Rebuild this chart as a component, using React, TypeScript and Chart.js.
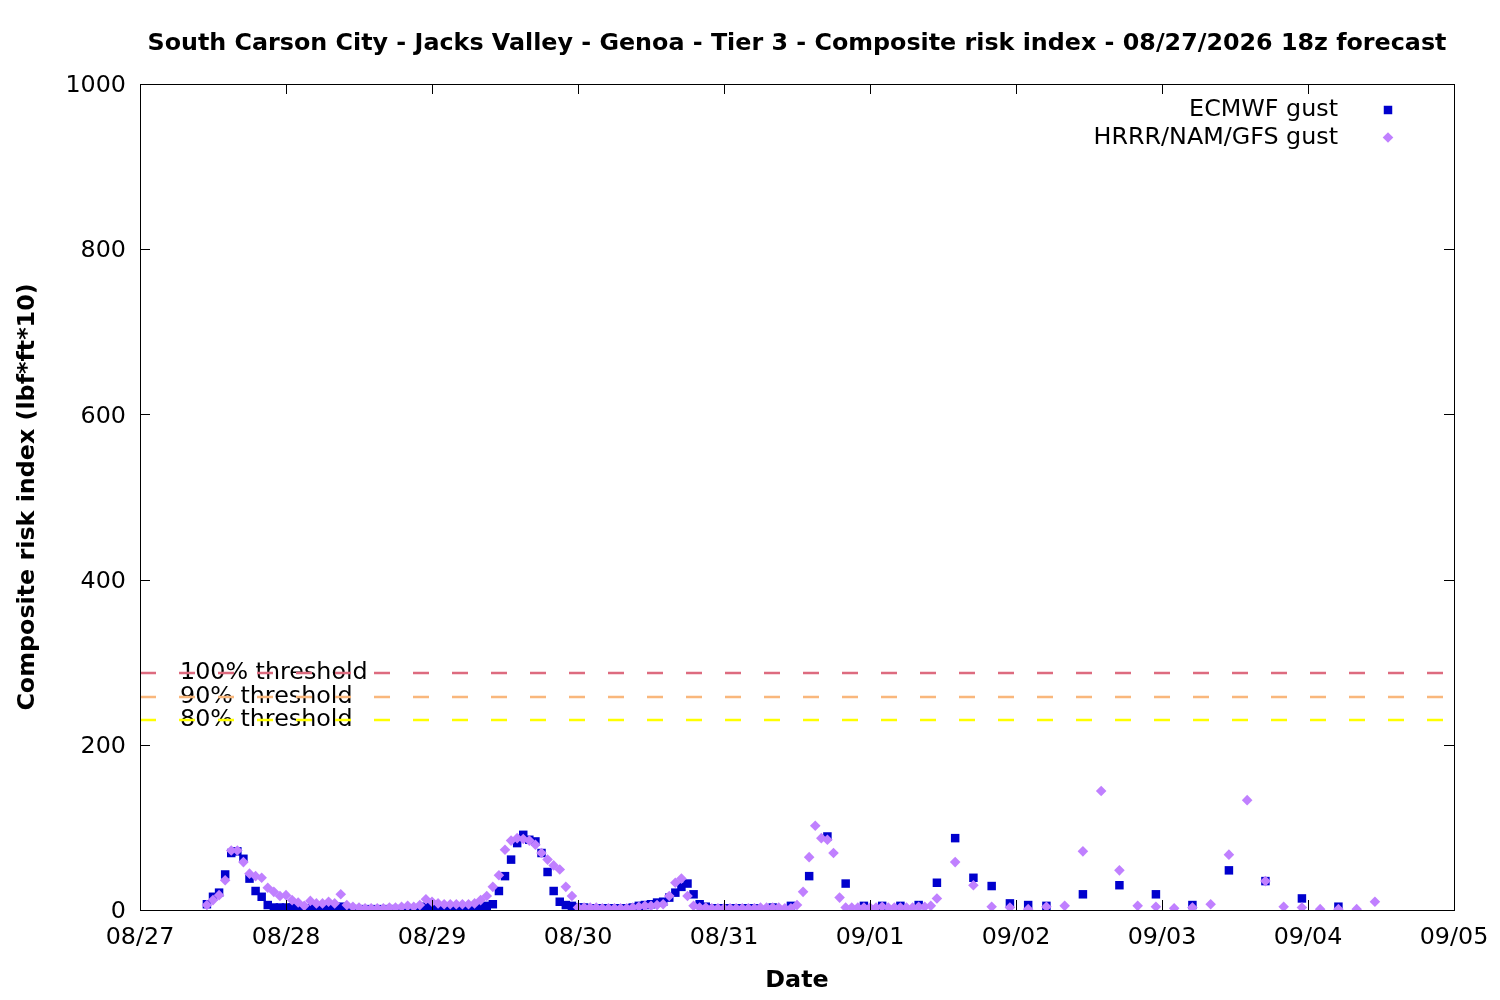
import { useEffect, useRef } from "react"
import { Chart, registerables, type ChartConfiguration, type Plugin } from "chart.js"

Chart.register(...registerables)

const chartTitle =
  "South Carson City - Jacks Valley - Genoa - Tier 3 - Composite risk index - 08/27/2026 18z forecast"
const xTitle = "Date"
const yTitle = "Composite risk index (lbf*ft*10)"

// x axis is hours since 08/27 00:00
const dateLabels = ["08/27", "08/28", "08/29", "08/30", "08/31", "09/01", "09/02", "09/03", "09/04", "09/05"]

// [first hour, step in hours, number of values]
const ecmwfSteps: [number, number, number][] = [
  [11, 1, 91],
  [104, 3, 16],
  [155, 6, 8],
]
const ecmwfGust = [
  7, 16, 21, 43, 69, 71, 62, 38, 23, 16,
  6, 3, 3, 3, 3, 3, 2, 2, 2, 2,
  2, 3, 4, 2, 1, 1, 1, 1, 1, 1,
  1, 1, 1, 1, 2, 2, 4, 2, 2, 2,
  2, 2, 2, 2, 3, 4, 5, 7, 23, 41,
  61, 81, 91, 85, 83, 69, 46, 23, 10, 6,
  5, 3, 3, 2, 2, 2, 2, 2, 2, 2,
  3, 5, 6, 7, 9, 10, 15, 21, 28, 32,
  19, 7, 4, 2, 2, 2, 2, 2, 2, 2,
  2,
  // 3-hourly
  3, 5, 41, 89, 32, 5, 5, 5, 6, 33, 87, 39, 29, 8, 6, 5,
  // 6-hourly
  19, 30, 19, 6, 48, 35, 14, 4,
]

const hrrrSteps: [number, number, number][] = [
  [11, 1, 121],
  [134, 3, 24],
]
const hrrrGust = [
  6, 12, 18, 36, 72, 72, 58, 44, 41, 39,
  27, 22, 17, 18, 12, 9, 5, 11, 8, 8,
  10, 8, 19, 6, 4, 3, 2, 2, 2, 2,
  3, 3, 4, 5, 4, 6, 13, 10, 8, 7,
  7, 7, 7, 7, 8, 12, 17, 28, 42, 73,
  84, 87, 86, 84, 79, 69, 61, 54, 49, 28,
  17, 3, 3, 3, 3, 2, 2, 2, 2, 2,
  3, 4, 5, 5, 6, 7, 17, 33, 38, 17,
  5, 3, 3, 2, 2, 2, 2, 2, 2, 2,
  2, 3, 3, 3, 3, 2, 2, 6, 22, 64,
  102, 87, 85, 69, 15, 3, 3, 3, 3, 3,
  3, 4, 3, 3, 3, 3, 3, 4, 4, 5,
  14,
  // 3-hourly
  58, 30, 4, 3, 1, 4, 5, 71, 144, 48, 5, 4, 2, 3, 7, 67, 133, 35, 4, 3, 1, 1, 1, 10,
]

const thresholdLabels = ["100% threshold", "90% threshold", "80% threshold"]
const thresholdValues = [287, 258, 230]
const thresholdColors = ["#dd6b7f", "#f9b77c", "#ffff00"]

const seriesLabels = ["ECMWF gust", "HRRR/NAM/GFS gust"]
const seriesColors = ["#0000cd", "#c080ff"]

const FONT = '"DejaVu Sans"'
const FS = 23.8

function hoursFor(steps: [number, number, number][]) {
  const out: number[] = []
  steps.forEach(([start, step, n]) => {
    for (let i = 0; i < n; i++) out.push(start + i * step)
  })
  return out
}

function toPoints(steps: [number, number, number][], values: number[]) {
  const hours = hoursFor(steps)
  return values.map((v, i) => ({ x: hours[i], y: v }))
}

function drawMarker(ctx: CanvasRenderingContext2D, kind: number, x: number, y: number) {
  ctx.fillStyle = seriesColors[kind]
  ctx.beginPath()
  if (kind === 0) {
    const s = 6 * Math.SQRT1_2
    ctx.rect(x - s, y - s, 2 * s, 2 * s)
  } else {
    const r = 5.3
    ctx.moveTo(x, y - r)
    ctx.lineTo(x + r, y)
    ctx.lineTo(x, y + r)
    ctx.lineTo(x - r, y)
    ctx.closePath()
  }
  ctx.fill()
}

const gnuplotLook: Plugin = {
  id: "gnuplotLook",
  beforeDatasetsDraw(chart) {
    const { ctx, chartArea: a, scales } = chart
    ctx.save()
    ctx.font = `${FS}px ${FONT}`
    ctx.fillStyle = "#000"
    ctx.textAlign = "left"
    ctx.textBaseline = "middle"
    thresholdValues.forEach((v, i) => {
      ctx.fillText(thresholdLabels[i], a.left + 40, scales.y.getPixelForValue(v))
    })
    ctx.restore()
  },
  afterDraw(chart) {
    const { ctx, chartArea: a, scales } = chart
    ctx.save()
    ctx.strokeStyle = "#000"
    ctx.lineWidth = 1
    ctx.strokeRect(a.left + 0.5, a.top + 0.5, a.right - a.left, a.bottom - a.top)

    const tick = 10
    ctx.beginPath()
    scales.x.ticks.forEach((t) => {
      const px = Math.round(scales.x.getPixelForValue(t.value)) + 0.5
      ctx.moveTo(px, a.bottom)
      ctx.lineTo(px, a.bottom - tick)
      ctx.moveTo(px, a.top)
      ctx.lineTo(px, a.top + tick)
    })
    scales.y.ticks.forEach((t) => {
      const py = Math.round(scales.y.getPixelForValue(t.value)) + 0.5
      ctx.moveTo(a.left, py)
      ctx.lineTo(a.left + tick, py)
      ctx.moveTo(a.right, py)
      ctx.lineTo(a.right - tick, py)
    })
    ctx.stroke()

    ctx.fillStyle = "#000"
    ctx.textBaseline = "middle"
    ctx.textAlign = "center"
    ctx.font = `bold ${FS}px ${FONT}`
    const cx = (a.left + a.right) / 2
    ctx.fillText(chartTitle, cx, 44)
    ctx.fillText(xTitle, cx, 981)
    ctx.save()
    ctx.translate(28, (a.top + a.bottom) / 2)
    ctx.rotate(-Math.PI / 2)
    ctx.fillText(yTitle, 0, 0)
    ctx.restore()

    ctx.font = `${FS}px ${FONT}`
    ctx.textAlign = "right"
    seriesLabels.forEach((label, i) => {
      const y = 110 + i * 27.5
      ctx.fillStyle = "#000"
      ctx.fillText(label, a.right - 116, y)
      drawMarker(ctx, i, a.right - 66, y)
    })
    ctx.restore()
  },
}

export default function App() {
  const canvasRef = useRef<HTMLCanvasElement | null>(null)
  const chartRef = useRef<Chart | null>(null)

  useEffect(() => {
    if (!canvasRef.current) return
    if (chartRef.current) chartRef.current.destroy()

    const thresholdSets = thresholdValues.map((v, i) => ({
      type: "line" as const,
      label: thresholdLabels[i],
      data: [
        { x: 0, y: v },
        { x: 216, y: v },
      ],
      borderColor: thresholdColors[i],
      borderWidth: 2.5,
      borderDash: [16, 23],
      pointRadius: 0,
      fill: false,
      order: 3,
    }))

    const config: ChartConfiguration = {
      type: "scatter",
      data: {
        datasets: [
          {
            label: seriesLabels[0],
            data: toPoints(ecmwfSteps, ecmwfGust),
            pointStyle: "rect",
            pointRadius: 6,
            pointBorderWidth: 0,
            backgroundColor: seriesColors[0],
            borderColor: seriesColors[0],
            order: 2,
          },
          {
            label: seriesLabels[1],
            data: toPoints(hrrrSteps, hrrrGust),
            pointStyle: "rectRot",
            pointRadius: 5.3,
            pointBorderWidth: 0,
            backgroundColor: seriesColors[1],
            borderColor: seriesColors[1],
            order: 1,
          },
          ...thresholdSets,
        ] as any,
      },
      options: {
        animation: false,
        responsive: true,
        maintainAspectRatio: false,
        layout: { padding: { left: 0, right: 46, top: 84, bottom: 0 } },
        plugins: {
          legend: { display: false },
          title: { display: false },
          tooltip: { enabled: false },
        },
        scales: {
          x: {
            type: "linear",
            min: 0,
            max: 216,
            grid: { display: false, drawTicks: false },
            border: { display: false },
            ticks: {
              stepSize: 24,
              padding: 14,
              color: "#000",
              font: { family: FONT, size: FS },
              maxRotation: 0,
              callback: (v) => dateLabels[Math.round(Number(v) / 24)] ?? "",
            },
            afterFit: (s: any) => {
              s.height = 90
              s.paddingLeft = 0
              s.paddingRight = 0
            },
          },
          y: {
            min: 0,
            max: 1000,
            grid: { display: false, drawTicks: false },
            border: { display: false },
            ticks: {
              stepSize: 200,
              padding: 14,
              labelOffset: 2,
              color: "#000",
              font: { family: FONT, size: FS },
              callback: (v) => String(v),
            },
            afterFit: (s: any) => {
              s.width = 140
              s.paddingTop = 0
              s.paddingBottom = 0
            },
          },
        },
      },
      plugins: [gnuplotLook],
    }

    chartRef.current = new Chart(canvasRef.current, config)
    return () => {
      chartRef.current?.destroy()
      chartRef.current = null
    }
  }, [])

  return (
    <div style={{ position: "fixed", left: 0, top: 0, width: 1500, height: 1000, background: "#fff" }}>
      <canvas ref={canvasRef} />
    </div>
  )
}
